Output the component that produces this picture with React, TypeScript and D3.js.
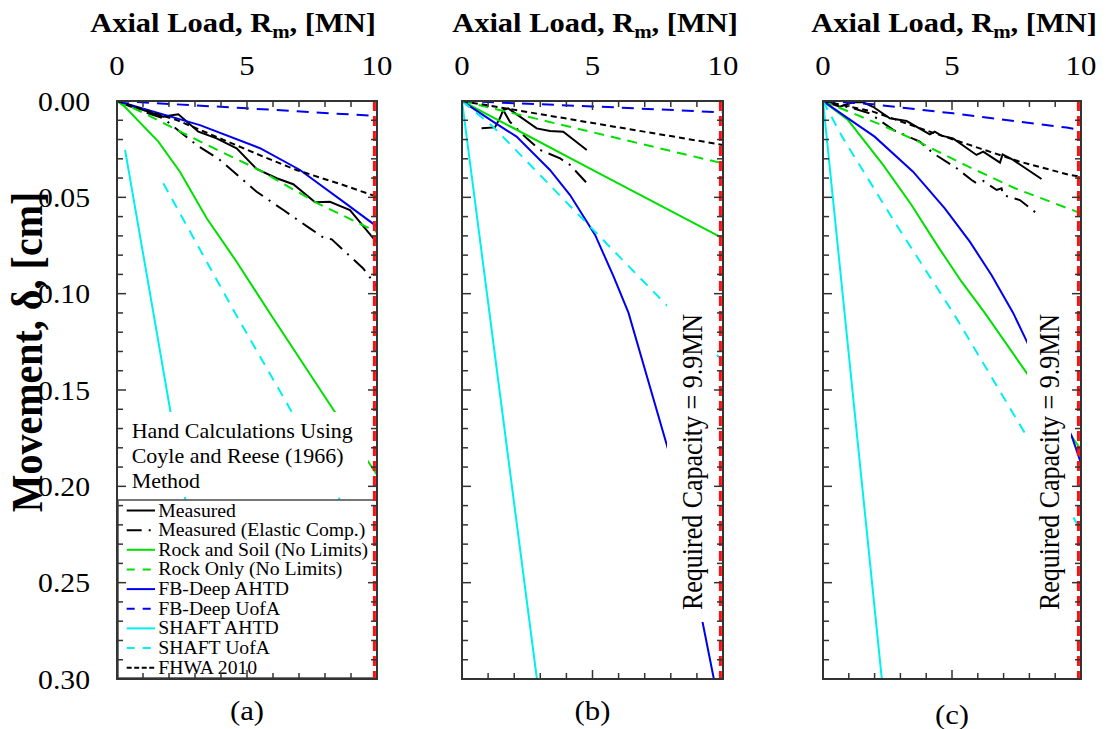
import React from "react";
import * as d3 from "d3";

type Pt = [number, number];

// ---------- axis ticks ----------
const xMinorTicks = [0, 1, 2, 3, 4, 5, 6, 7, 8, 9, 10];
const xLabelTicks = [0, 5, 10];
const yMinorTicks = d3.range(0, 31).map((i) => i / 100);
const yLabelTicks = [0, 0.05, 0.1, 0.15, 0.2, 0.25, 0.3];
const requiredCapacity = 9.9;
const panelLabels = ["(a)", "(b)", "(c)"];

// ---------- series ----------
const seriesNames = [
  "Measured",
  "Measured (Elastic Comp.)",
  "Rock and Soil (No Limits)",
  "Rock Only (No Limits)",
  "FB-Deep AHTD",
  "FB-Deep UofA",
  "SHAFT AHTD",
  "SHAFT UofA",
  "FHWA 2010",
];
const seriesColors = ["#000000", "#000000", "#00e000", "#00e000", "#0000f0", "#0000f0", "#00f0f0", "#00f0f0", "#000000"];
const seriesDashes = ["", "16,7,2,7", "", "10,7", "", "12,8", "", "10,8", "6,4"];
const legendDashes = ["", "15,7,2,7", "", "8,8", "", "8,8", "", "8,8", "5,2.5"];

// ---------- panel (a) ----------
const measuredA: Pt[] = [[0, 0], [1.01, 0.0047], [1.78, 0.0081], [2.36, 0.0069], [3.13, 0.0159], [3.83, 0.0194], [4.6, 0.0246], [5.37, 0.0353], [6.14, 0.0401], [6.78, 0.0432], [7.62, 0.0526], [8.19, 0.0523], [8.96, 0.0566], [9.86, 0.0713], [10, 0.073]];
const elasticA: Pt[] = [[0, 0], [0.9, 0.005], [1.78, 0.009], [3.06, 0.0228], [3.96, 0.0306], [5.37, 0.0471], [6.4, 0.0566], [7.42, 0.0661], [7.94, 0.0709], [8.26, 0.0718], [9.47, 0.0869], [10, 0.0965]];
const rockSoilA: Pt[] = [[0, 0], [0.3, 0.003], [1.59, 0.0211], [2.42, 0.0367], [3.45, 0.0609], [4.6, 0.0834], [5.88, 0.1102], [8.38, 0.1614], [10, 0.194]];
const rockOnlyA: Pt[] = [[0, 0], [1, 0.006], [2.3, 0.015], [3.8, 0.025], [5.5, 0.036], [7.7, 0.053], [10, 0.068]];
const fbAhtdA: Pt[] = [[0, 0], [3.19, 0.0125], [5.5, 0.0245], [7.04, 0.0358], [8.7, 0.0522], [10, 0.0652]];
const fbUofaA: Pt[] = [[0, 0], [5, 0.0038], [10, 0.0078]];
const shaftAhtdA: Pt[] = [[0.31, 0.0254], [1.4, 0.11], [2.04, 0.16], [3.8, 0.3]];
const shaftUofaA: Pt[] = [[1.78, 0.0427], [4.54, 0.11], [6.58, 0.158], [10, 0.242]];
const fhwaA: Pt[] = [[0, 0], [2.3, 0.0099], [5.63, 0.0289], [6.9, 0.0358], [8.7, 0.0436], [10, 0.0497]];

// ---------- panel (b) ----------
const measuredB: Pt[] = [[0.75, 0.0142], [1.26, 0.0137], [1.45, 0.009], [1.58, 0.0047], [1.77, 0.0038], [2.86, 0.0142], [3.37, 0.0156], [3.88, 0.0159], [4.78, 0.0254]];
const elasticB: Pt[] = [[1.58, 0.0047], [1.83, 0.0107], [2.48, 0.0194], [2.99, 0.0254], [3.76, 0.0298], [4.14, 0.0332], [4.85, 0.0436]];
const rockSoilB: Pt[] = [[0, 0], [5, 0.0357], [10, 0.0713]];
const rockOnlyB: Pt[] = [[0, 0], [5, 0.0162], [10, 0.0324]];
const fbAhtdB: Pt[] = [[0, 0], [1.19, 0.0107], [2.09, 0.0185], [3.37, 0.0358], [4.14, 0.0488], [5.1, 0.0695], [5.81, 0.0912], [6.38, 0.11], [7.9, 0.181], [9.21, 0.27], [9.65, 0.3]];
const fbUofaB: Pt[] = [[0, 0], [5, 0.0028], [10, 0.0059]];
const shaftAhtdB: Pt[] = [[0, 0], [2.87, 0.3]];
const shaftUofaB: Pt[] = [[0, 0], [1.19, 0.0133], [4.85, 0.0644], [7.79, 0.1053], [10, 0.135]];
const fhwaB: Pt[] = [[0, 0], [5, 0.0114], [10, 0.0228]];

// ---------- panel (c) ----------
const measuredC: Pt[] = [[0, 0], [0.65, 0.003], [1.16, 0.0007], [1.55, 0.0007], [1.94, 0.003], [2.59, 0.009], [3.24, 0.0104], [4.14, 0.0173], [4.33, 0.0159], [4.59, 0.018], [5.04, 0.0194], [5.95, 0.028], [6.21, 0.0263], [6.86, 0.032], [6.96, 0.0277], [7.37, 0.0306], [8.47, 0.0405]];
const elasticC: Pt[] = [[0, 0], [1.16, 0.0038], [1.81, 0.0064], [2.72, 0.015], [3.75, 0.0211], [4.27, 0.0271], [5.18, 0.0349], [5.76, 0.041], [5.95, 0.0427], [6.21, 0.0415], [6.73, 0.0462], [6.92, 0.0453], [6.98, 0.0488], [7.63, 0.0514], [8.28, 0.0583]];
const rockSoilC: Pt[] = [[0, 0], [0.97, 0.0099], [2.33, 0.0332], [3.43, 0.054], [4.46, 0.0756], [5.37, 0.0938], [6.27, 0.11], [7.87, 0.1407], [10, 0.181]];
const rockOnlyC: Pt[] = [[0, 0], [2.27, 0.0125], [3.56, 0.0202], [5.5, 0.0332], [7.44, 0.0453], [10, 0.0583]];
const fbAhtdC: Pt[] = [[0, 0], [0.97, 0.009], [2.0, 0.0185], [3.49, 0.0367], [4.72, 0.0557], [5.69, 0.073], [6.53, 0.0903], [7.37, 0.11], [7.87, 0.124], [9.64, 0.174], [10, 0.188]];
const fbUofaC: Pt[] = [[0, 0], [1.94, 0.0017], [5.04, 0.0064], [9.44, 0.0138], [10, 0.0151]];
const shaftAhtdC: Pt[] = [[0, 0], [2.28, 0.3]];
const shaftUofaC: Pt[] = [[0, 0], [0.78, 0.0194], [2.85, 0.0644], [5.05, 0.11], [7.83, 0.1725], [10, 0.223]];
const fhwaC: Pt[] = [[0, 0], [1.94, 0.0055], [4.14, 0.0159], [6.08, 0.0246], [7.63, 0.0315], [9.57, 0.0384], [10, 0.0393]];

const panelSeries: Pt[][][] = [
  [measuredA, elasticA, rockSoilA, rockOnlyA, fbAhtdA, fbUofaA, shaftAhtdA, shaftUofaA, fhwaA],
  [measuredB, elasticB, rockSoilB, rockOnlyB, fbAhtdB, fbUofaB, shaftAhtdB, shaftUofaB, fhwaB],
  [measuredC, elasticC, rockSoilC, rockOnlyC, fbAhtdC, fbUofaC, shaftAhtdC, shaftUofaC, fhwaC],
];

const annotationLines = ["Hand Calculations Using", "Coyle and Reese (1966)", "Method"];
const capacityText = "Required Capacity = 9.9MN";

// ---------- layout ----------
const W = 1106;
const H = 729;
const PANEL_X: [number, number][] = [[117, 377], [462, 723], [823, 1081]];
const TITLE_CX = [233, 595, 954];
const TOP = 101;
const BOTTOM = 679;
const SX = 1.1;
const FONT = "'Liberation Serif', 'Times New Roman', Times, serif";
const AXIS = "#333";

function SText(props: {
  x: number; y: number; size: number; bold?: boolean; anchor?: string; rotate?: boolean; children: React.ReactNode;
}) {
  const { x, y, size, bold, anchor, rotate, children } = props;
  return (
    <text
      transform={`translate(${x},${y}) scale(${SX},1)${rotate ? " rotate(-90)" : ""}`}
      fontFamily={FONT}
      fontSize={size}
      fontWeight={bold ? "bold" : "normal"}
      textAnchor={anchor || "start"}
      fill="#000"
    >
      {children}
    </text>
  );
}

function Panel({ idx }: { idx: number }) {
  const [x0, x1] = PANEL_X[idx];
  const x = d3.scaleLinear().domain([0, 10]).range([x0, x1]);
  const y = d3.scaleLinear().domain([0, 0.3]).range([TOP, BOTTOM]);
  const line = d3.line<Pt>().x((d) => x(d[0])).y((d) => y(d[1]));
  const clipId = `clip-${idx}`;
  const rx = x(requiredCapacity);
  const series = panelSeries[idx];
  return (
    <g>
      <defs>
        <clipPath id={clipId}>
          <rect x={x0} y={TOP} width={x1 - x0} height={BOTTOM - TOP} />
        </clipPath>
      </defs>
      <g clipPath={`url(#${clipId})`}>
        {series.map((pts, i) => (
          <path
            key={i}
            d={line(pts) || ""}
            fill="none"
            stroke={seriesColors[i]}
            strokeWidth={2}
            strokeDasharray={seriesDashes[i] || undefined}
          />
        ))}
      </g>

      {idx === 0 && (
        <g>
          <rect x={x0} y={412} width={368 - x0} height={85} fill="#fff" />
          {annotationLines.map((t, i) => (
            <SText key={i} x={131.7} y={438 + i * 25} size={20}>{t}</SText>
          ))}
          <rect x={x0 + 1} y={500} width={x1 - x0 - 1} height={178} fill="#fff" stroke="#555" strokeWidth={1.6} />
          {seriesNames.map((n, i) => {
            const ly = 510.5 + i * 19.65;
            return (
              <g key={n}>
                <line x1={126.7} x2={155} y1={ly} y2={ly} stroke={seriesColors[i]} strokeWidth={2} strokeDasharray={legendDashes[i] || undefined} />
                <SText x={158.3} y={ly + 6} size={17.9}>{n}</SText>
              </g>
            );
          })}
        </g>
      )}

      {idx > 0 && (
        <g>
          <rect x={idx === 1 ? 667 : 1027} y={298} width={idx === 1 ? 47 : 44} height={324} fill="#fff" />
          <SText x={idx === 1 ? 702 : 1059} y={462} size={26} anchor="middle" rotate>{capacityText}</SText>
        </g>
      )}

      <line x1={rx} x2={rx} y1={TOP} y2={BOTTOM} stroke="#ff1010" strokeWidth={3} strokeDasharray="10,5" />

      {/* frame */}
      <rect x={x0} y={TOP} width={x1 - x0} height={BOTTOM - TOP} fill="none" stroke={AXIS} strokeWidth={2} />
      {xMinorTicks.map((t) => {
        const len = t % 5 === 0 ? 9 : 6;
        return (
          <g key={`xt${t}`}>
            <line x1={x(t)} x2={x(t)} y1={TOP} y2={TOP + len} stroke={AXIS} strokeWidth={1.5} />
            <line x1={x(t)} x2={x(t)} y1={BOTTOM} y2={BOTTOM - len} stroke={AXIS} strokeWidth={1.5} />
          </g>
        );
      })}
      {yMinorTicks.map((t, i) => {
        const len = i % 5 === 0 ? 9 : 6;
        return (
          <g key={`yt${i}`}>
            <line x1={x0} x2={x0 + len} y1={y(t)} y2={y(t)} stroke={AXIS} strokeWidth={1.5} />
            <line x1={x1} x2={x1 - len} y1={y(t)} y2={y(t)} stroke={AXIS} strokeWidth={1.5} />
          </g>
        );
      })}

      {xLabelTicks.map((t) => (
        <SText key={`xl${t}`} x={x(t)} y={75} size={28} anchor="middle">{String(t)}</SText>
      ))}
      {idx === 0 &&
        yLabelTicks.map((t) => (
          <SText key={`yl${t}`} x={90} y={y(t) + 9.5} size={27} anchor="end">{t.toFixed(2)}</SText>
        ))}

      <SText x={TITLE_CX[idx]} y={31.7} size={27.7} bold anchor="middle">
        <tspan>Axial Load, R</tspan>
        <tspan fontSize={19} dy={6}>m</tspan>
        <tspan dy={-6}>, [MN]</tspan>
      </SText>

      <SText x={(x0 + x1) / 2} y={idx === 2 ? 724 : 720} size={28} anchor="middle">{panelLabels[idx]}</SText>
    </g>
  );
}

export default function App() {
  return (
    <svg width={W} height={H} style={{ position: "absolute", left: 0, top: 0, background: "#fff" }}>
      <rect x={0} y={0} width={W} height={H} fill="#fff" />
      {[0, 1, 2].map((i) => (
        <Panel key={i} idx={i} />
      ))}
      <SText x={42} y={352} size={40} bold anchor="middle" rotate>
        Movement, δ, [cm]
      </SText>
    </svg>
  );
}
